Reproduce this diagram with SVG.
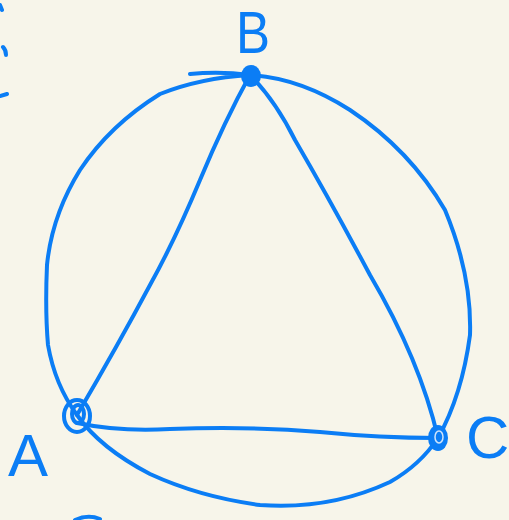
<svg xmlns="http://www.w3.org/2000/svg" width="509" height="520" viewBox="0 0 509 520">
<style>
.ln{fill:none;stroke:#0b7df5;stroke-width:4;stroke-linecap:round;stroke-linejoin:round}
.lbl{font-family:"Liberation Sans",sans-serif;fill:#0b7df5;font-size:60px}
</style>
<rect width="509" height="520" fill="#f7f5ea"/>
<g id="strays">
<path class="ln" d="M0 5 L2 10 M3 47 Q6 50 6 55 M0 96 L7 94 M75 520 Q88 514 100 519"/>
</g>
<g id="connectors">
<path class="ln" d="M190 74 Q220 71 250 75 Q200 78 160 94 Q110 125 80 170 Q52 215 47 265 Q45 310 48 345 Q55 385 77 415 Q100 448 150 474 Q200 497 260 505 Q330 510 390 482 Q420 465 438 438 Q462 395 470 335 Q472 275 445 210 Q410 150 350 110 Q300 78 250 75"/>
<path class="ln" d="M250 75 Q225 120 200 180 Q175 240 150 285 Q118 345 77 415"/>
<path class="ln" d="M77 423 Q120 432 170 429 Q250 426 320 432 Q380 438 438 438"/>
<path class="ln" d="M250 75 Q275 100 295 140 Q330 200 370 275 Q420 360 438 438"/>
</g>
<g id="nodeB">
<ellipse cx="251" cy="76" rx="10" ry="11" fill="#0b7df5"/>
<text class="lbl" x="236" y="53" font-size="56" transform="translate(236 53) scale(0.85 1) translate(-236 -53)">B</text>
</g>
<g id="nodeA">
<ellipse cx="77" cy="416" rx="13" ry="16" class="ln"/>
<ellipse cx="78" cy="414" rx="6" ry="9" class="ln" stroke-width="3"/>
<text class="lbl" x="8" y="476">A</text>
</g>
<g id="nodeC">
<ellipse cx="438" cy="438" rx="10" ry="13" fill="#0b7df5"/>
<ellipse cx="439" cy="437" rx="4" ry="6" fill="none" stroke="#cfe4fb" stroke-width="1.5"/>
<text class="lbl" x="466" y="458" font-size="50">C</text>
</g>
</svg>
